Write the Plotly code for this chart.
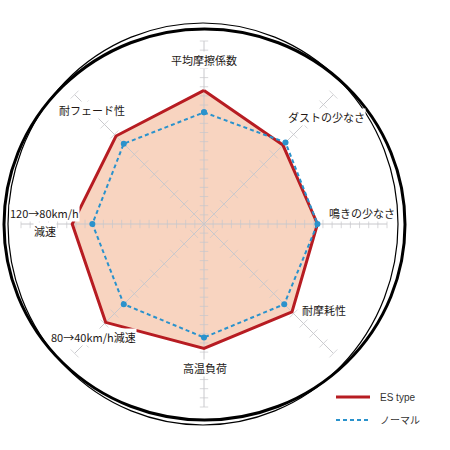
import numpy as np
import plotly.graph_objects as go

# ---- data ----
categories = ["平均摩擦係数", "ダストの少なさ", "鳴きの少なさ", "耐摩耗性",
              "高温負荷", "80→40km/h減速", "120→80km/h減速", "耐フェード性"]
es_type = [7.3, 6.1, 6.2, 6.8, 6.8, 7.6, 7.2, 6.8]
normal = [6.1, 6.3, 6.2, 6.2, 6.2, 6.2, 6.1, 6.2]
axis_max = 10
series_names = ["ES type", "ノーマル"]

W = H = 450
CX, CY, R = 204, 224, 183


def px(x):
    return x / W


def py(y):
    return 1 - y / H


RED = "#b71c22"
BLUE = "#2a92cc"
FILL = "rgb(248,212,192)"
GRID = "rgb(200,200,204)"
FONT = "Noto Sans CJK JP"

cat_closed = categories + categories[:1]
es_closed = es_type + es_type[:1]
nm_closed = normal + normal[:1]

fig = go.Figure()

# filled area of ES type
fig.add_trace(go.Scatterpolar(r=es_closed, theta=cat_closed, mode="lines",
                              fill="toself", fillcolor=FILL,
                              line=dict(width=0, color=FILL),
                              showlegend=False, hoverinfo="skip"))

# spokes (drawn above the fill)
sr, st = [], []
for c in categories:
    sr += [0, axis_max, None]
    st += [c, c, None]
fig.add_trace(go.Scatterpolar(r=sr, theta=st, mode="lines",
                              line=dict(color=GRID, width=1),
                              connectgaps=False, showlegend=False,
                              hoverinfo="skip"))

# tick crosses along spokes
tr, tt, ta, ts = [], [], [], []
for i, c in enumerate(categories):
    ang = i * 45
    n = 20 if i % 2 == 0 else 13
    size = 6 if i % 2 == 0 else 8
    for k in range(1, n + 1):
        tr.append(axis_max * k / n)
        tt.append(c)
        ta.append(ang)
        ts.append(size)
fig.add_trace(go.Scatterpolar(r=tr, theta=tt, mode="markers",
                              marker=dict(symbol="line-ew", size=ts, angle=ta,
                                          line=dict(color=GRID, width=1)),
                              showlegend=False, hoverinfo="skip"))

# ES type line
fig.add_trace(go.Scatterpolar(r=es_closed, theta=cat_closed, mode="lines",
                              line=dict(color=RED, width=3),
                              name=series_names[0], showlegend=False))

# normal line
fig.add_trace(go.Scatterpolar(r=nm_closed, theta=cat_closed, mode="lines+markers",
                              line=dict(color=BLUE, width=2, dash="4px,3px"),
                              marker=dict(color=BLUE, size=6),
                              name=series_names[1], showlegend=False))

fig.update_layout(
    width=W, height=H,
    margin=dict(l=0, r=0, t=0, b=0),
    paper_bgcolor="white",
    showlegend=False,
    polar=dict(
        domain=dict(x=[px(CX - R), px(CX + R)], y=[py(CY + R), py(CY - R)]),
        bgcolor="rgba(0,0,0,0)",
        radialaxis=dict(range=[0, axis_max], visible=False),
        angularaxis=dict(direction="clockwise", rotation=90,
                         showticklabels=False, ticks="", showline=False,
                         showgrid=False),
    ),
)

# axis labels (positions in pixels); long label split over two lines
label_lines = {
    "平均摩擦係数": [("平均摩擦係数", 204, 60)],
    "ダストの少なさ": [("ダストの少なさ", 326, 117)],
    "鳴きの少なさ": [("鳴きの少なさ", 362, 213)],
    "耐摩耗性": [("耐摩耗性", 324, 310)],
    "高温負荷": [("高温負荷", 205, 368)],
    "80→40km/h減速": [("80→40km/h減速", 93, 337)],
    "120→80km/h減速": [("120→80km/h", 44, 213), ("減速", 45, 231)],
    "耐フェード性": [("耐フェード性", 92, 110)],
}
for c in categories:
    for text, x, y in label_lines[c]:
        fig.add_annotation(x=px(x), y=py(y), xref="paper", yref="paper",
                           text=text, showarrow=False, bgcolor="white",
                           borderpad=0, xanchor="center", yanchor="middle",
                           font=dict(family=FONT, size=11, color="#231815"))

# outer double ring
fig.add_shape(type="circle", xref="paper", yref="paper",
              x0=px(8), x1=px(398), y0=py(425), y1=py(23),
              line=dict(color="black", width=1.2))
fig.add_shape(type="circle", xref="paper", yref="paper",
              x0=px(4), x1=px(405), y0=py(420), y1=py(29),
              line=dict(color="black", width=3))

# legend
fig.add_shape(type="line", xref="paper", yref="paper",
              x0=px(336), x1=px(370), y0=py(397), y1=py(397),
              line=dict(color=RED, width=3))
fig.add_shape(type="line", xref="paper", yref="paper",
              x0=px(336), x1=px(369), y0=py(420), y1=py(420),
              line=dict(color=BLUE, width=2, dash="4px,3px"))
for name, y in zip(series_names, [397, 420]):
    fig.add_annotation(x=px(378), y=py(y), xref="paper", yref="paper",
                       text=name, showarrow=False, xanchor="left",
                       yanchor="middle",
                       font=dict(family="Liberation Sans, " + FONT, size=10,
                                 color="#333333"))

fig.write_html("out.html",
               config={"displayModeBar": False},
               post_script="document.body.style.margin='0';"
                           "document.body.style.overflow='hidden';")
